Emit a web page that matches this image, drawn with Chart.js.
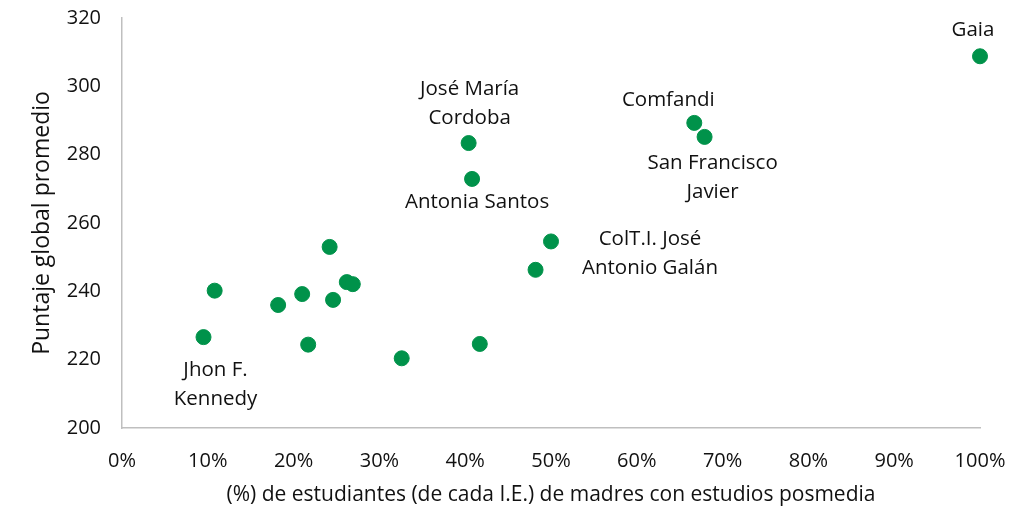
<!DOCTYPE html>
<html>
<head>
<meta charset="utf-8">
<script src="https://cdn.jsdelivr.net/npm/chart.js@4"></script>
<style>
  html, body { margin: 0; padding: 0; background: #fff; }
  #wrap { width: 1032px; height: 506px; }
</style>
</head>
<body>
<div id="wrap"><canvas id="myChart" width="1032" height="506"></canvas></div>
<script>
// Data
const schoolNames = ['Jhon F. Kennedy', '', '', '', '', '', '', '', '', '', '', '', 'ColT.I. José Antonio Galán',
    'José María Cordoba', 'Antonia Santos', 'Comfandi', 'San Francisco Javier', 'Gaia'];
const pctMothers = [9.5, 10.8, 18.2, 21.0, 21.7, 24.2, 24.6, 26.2, 26.9, 32.6, 41.7, 48.2, 50.0,
    40.4, 40.8, 66.7, 67.9, 100];
const avgScore = [226.6, 240.2, 236.0, 239.2, 224.4, 253.0, 237.5, 242.7, 242.1, 220.4, 224.6, 246.3, 254.6,
    283.4, 272.9, 289.3, 285.2, 308.8];
const xTicks = [0, 10, 20, 30, 40, 50, 60, 70, 80, 90, 100];
const yTicks = [200, 220, 240, 260, 280, 300, 320];

const FONT = "'Open Sans', 'Liberation Sans', sans-serif";
const GREEN = '#00924a';
const TEXT = '#111111';

// where each label sits relative to its point (dx, dy of the text block centre)
const labelLayout = {
    'Gaia': { dx: -7, dy: -26, lines: ['Gaia'] },
    'Comfandi': { dx: -26, dy: -23, lines: ['Comfandi'] },
    'José María Cordoba': { dx: 1, dy: -39, lines: ['José María', 'Cordoba'] },
    'Antonia Santos': { dx: 5, dy: 23, lines: ['Antonia Santos'] },
    'San Francisco Javier': { dx: 8, dy: 41, lines: ['San Francisco', 'Javier'] },
    'ColT.I. José Antonio Galán': { dx: 99, dy: 12, lines: ['ColT.I. José', 'Antonio Galán'] },
    'Jhon F. Kennedy': { dx: 12, dy: 48, lines: ['Jhon F.', 'Kennedy'] }
};

const pointLabels = {
    id: 'pointLabels',
    afterDatasetsDraw(chart) {
        const ctx = chart.ctx;
        const meta = chart.getDatasetMeta(0);
        ctx.save();
        ctx.font = '20.5px ' + FONT;
        ctx.fillStyle = TEXT;
        ctx.textAlign = 'center';
        ctx.textBaseline = 'middle';
        meta.data.forEach((pt, i) => {
            const lay = labelLayout[schoolNames[i]];
            if (!lay) return;
            const lh = 29;
            const top = pt.y + lay.dy - (lay.lines.length - 1) * lh / 2;
            lay.lines.forEach((txt, k) => {
                ctx.fillText(txt, pt.x + lay.dx, top + k * lh);
            });
        });
        ctx.restore();
    }
};

const ctx = document.getElementById('myChart').getContext('2d');
new Chart(ctx, {
    type: 'scatter',
    data: {
        datasets: [{
            data: pctMothers.map((x, i) => ({ x: x, y: avgScore[i] })),
            backgroundColor: GREEN,
            borderColor: GREEN,
            pointRadius: 7.5,
            pointHoverRadius: 7.5,
            clip: false
        }]
    },
    options: {
        responsive: false,
        animation: false,
        layout: { padding: { top: 18, right: 52, left: 0, bottom: 0 } },
        plugins: { legend: { display: false }, tooltip: { enabled: false } },
        scales: {
            x: {
                type: 'linear',
                min: 0,
                max: 100,
                afterBuildTicks: axis => { axis.ticks = xTicks.map(v => ({ value: v })); },
                afterFit: axis => {
                    axis.height = 78;
                    axis.paddingLeft = 0;
                    axis.paddingRight = 0;
                },
                grid: { drawOnChartArea: false, drawTicks: false },
                border: { color: '#bfbfbf', width: 1.5 },
                ticks: {
                    padding: 21,
                    color: TEXT,
                    font: { family: FONT, size: 20 },
                    maxRotation: 0,
                    callback: v => v + '%'
                },
                title: {
                    display: true,
                    text: '(%) de estudiantes (de cada I.E.) de madres con estudios posmedia',
                    color: TEXT,
                    font: { family: FONT, size: 21 },
                    padding: { top: 0, bottom: -2 }
                }
            },
            y: {
                type: 'linear',
                min: 200,
                max: 320,
                afterBuildTicks: axis => { axis.ticks = yTicks.map(v => ({ value: v })); },
                afterFit: axis => {
                    axis.width = 122;
                    axis.paddingTop = 0;
                    axis.paddingBottom = 0;
                },
                grid: { drawOnChartArea: false, drawTicks: false },
                border: { color: '#bfbfbf', width: 1.5 },
                ticks: {
                    padding: 21,
                    color: TEXT,
                    font: { family: FONT, size: 20 }
                },
                title: {
                    display: true,
                    text: 'Puntaje global promedio',
                    color: TEXT,
                    font: { family: FONT, size: 23 },
                    padding: { top: 29, bottom: 0 }
                }
            }
        }
    },
    plugins: [pointLabels]
});
</script>
</body>
</html>
